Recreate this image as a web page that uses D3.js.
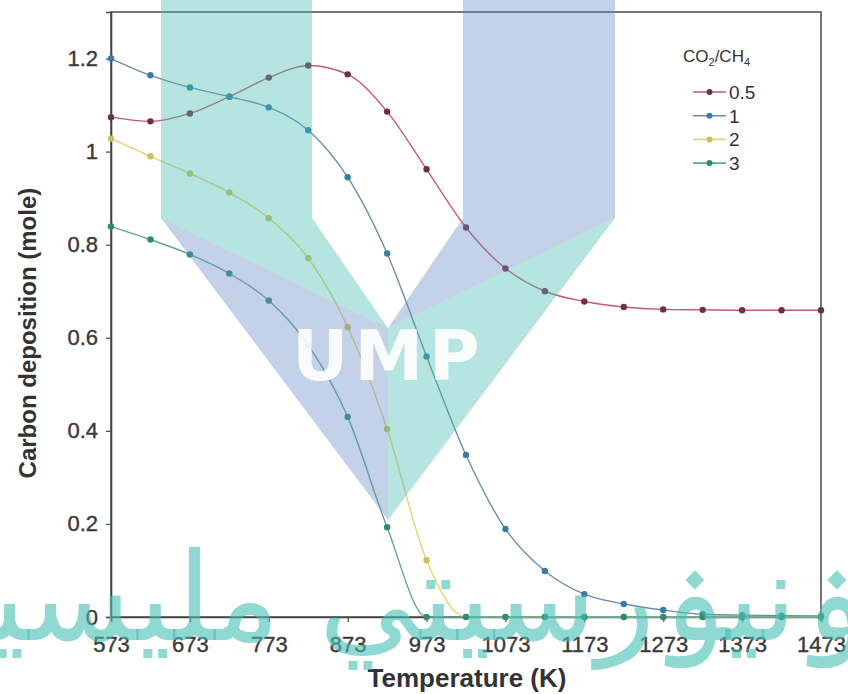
<!DOCTYPE html>
<html lang="en">
<head>
<meta charset="UTF-8">
<title>Carbon deposition vs temperature</title>
<script src="https://d3js.org/d3.v7.min.js"></script>
<style>
  body { margin: 0; background: #fff; }
  svg text { font-family: "Liberation Sans", Arial, sans-serif; }
</style>
</head>
<body>
<div id="chart"></div>
<script>
// temperatures (K), one point every 50 K
const temps = [573, 623, 673, 723, 773, 823, 873, 923, 973, 1023, 1073, 1123, 1173, 1223, 1273, 1323, 1373, 1423, 1473];

// carbon deposition (mole) for each CO2/CH4 ratio
const ratio05 = [1.074, 1.065, 1.082, 1.118, 1.159, 1.185, 1.166, 1.086, 0.962, 0.837, 0.749, 0.700, 0.678, 0.666, 0.661, 0.660, 0.659, 0.659, 0.659];
const ratio1  = [1.200, 1.164, 1.138, 1.118, 1.095, 1.046, 0.945, 0.781, 0.560, 0.348, 0.189, 0.099, 0.049, 0.028, 0.015, 0.006, 0.004, 0.003, 0.002];
const ratio2  = [1.028, 0.990, 0.953, 0.912, 0.857, 0.771, 0.623, 0.404, 0.122, 0, 0, 0, 0, 0, 0, 0, 0, 0, 0];
const ratio3  = [0.839, 0.811, 0.779, 0.738, 0.680, 0.584, 0.430, 0.193, 0, 0, 0, 0, 0, 0, 0, 0, 0, 0, 0];

const seriesNames = ["0.5", "1", "2", "3"];
const xTicks = [573, 673, 773, 873, 973, 1073, 1173, 1273, 1373, 1473];
const yTicks = [0, 0.2, 0.4, 0.6, 0.8, 1, 1.2];

const lineColors = ["#c45a6c", "#6b8daa", "#e6d373", "#5fa792"];
const dotColors  = ["#6e3048", "#3a7ca6", "#c9c25a", "#2f8c72"];

const width = 848, height = 694;
const margin = { top: 12, right: 27, bottom: 77, left: 111 };
const w = width - margin.left - margin.right;
const h = height - margin.top - margin.bottom;

const svg = d3.select("#chart").append("svg")
    .attr("width", width)
    .attr("height", height);

const g = svg.append("g").attr("transform", `translate(${margin.left},${margin.top})`);

const x = d3.scaleLinear().domain([573, 1473]).range([0, w]);
const y = d3.scaleLinear().domain([0, 1.3]).range([h, 0]);

// frame
g.append("rect")
    .attr("width", w).attr("height", h)
    .attr("fill", "none").attr("stroke", "#555").attr("stroke-width", 1.6);

const xAxis = g.append("g")
    .attr("transform", `translate(0,${h})`)
    .call(d3.axisBottom(x).tickValues(xTicks).tickFormat(d3.format("d")).tickSize(5).tickPadding(14));
const yAxis = g.append("g")
    .call(d3.axisLeft(y).tickValues(yTicks).tickFormat(d => d).tickSize(5).tickPadding(8));

[xAxis, yAxis].forEach(a => {
  a.select(".domain").attr("stroke", "#444").attr("stroke-width", 1.6);
  a.selectAll(".tick line").attr("stroke", "#555").attr("stroke-width", 1.3);
  a.selectAll(".tick text")
      .attr("fill", "#3a3a3a")
      .attr("stroke", "#3a3a3a").attr("stroke-width", 0.4)
      .style("font-size", "22px")
      .style("font-family", "'Liberation Sans', Arial, sans-serif");
});

// axis titles
svg.append("text")
    .attr("x", 467)
    .attr("y", 687)
    .attr("text-anchor", "middle")
    .attr("fill", "#333")
    .style("font-size", "26px").style("font-weight", "bold")
    .text("Temperature (K)");

svg.append("text")
    .attr("transform", `translate(36,${margin.top + y(0.61)}) rotate(-90)`)
    .attr("text-anchor", "middle")
    .attr("fill", "#333")
    .style("font-size", "24px").style("font-weight", "bold")
    .text("Carbon deposition (mole)");

// series
const allSeries = [ratio05, ratio1, ratio2, ratio3];
const line = d3.line()
    .x((d, i) => x(temps[i]))
    .y(d => y(d))
    .curve(d3.curveMonotoneX);

allSeries.forEach((vals, k) => {
  g.append("path")
      .datum(vals)
      .attr("fill", "none")
      .attr("stroke", lineColors[k])
      .attr("stroke-width", 1.4)
      .attr("d", line);
  g.selectAll(".dot" + k)
      .data(vals)
      .enter().append("circle")
      .attr("cx", (d, i) => x(temps[i]))
      .attr("cy", d => y(d))
      .attr("r", 3.2)
      .attr("fill", dotColors[k]);
});

// legend
const legend = svg.append("g").attr("transform", "translate(693,62)");
const title = legend.append("text")
    .attr("x", -10).attr("y", 0)
    .attr("fill", "#333")
    .style("font-size", "17px");
title.append("tspan").text("CO");
title.append("tspan").attr("dy", 4).style("font-size", "11px").text("2");
title.append("tspan").attr("dy", -4).text("/CH");
title.append("tspan").attr("dy", 4).style("font-size", "11px").text("4");

seriesNames.forEach((name, k) => {
  const row = legend.append("g").attr("transform", `translate(0,${30 + k * 23.7})`);
  row.append("line")
      .attr("x1", 0).attr("x2", 33)
      .attr("stroke", lineColors[k]).attr("stroke-width", 1.6);
  row.append("circle").attr("cx", 16.5).attr("r", 3).attr("fill", dotColors[k]);
  row.append("text")
      .attr("x", 36).attr("y", 7)
      .attr("fill", "#333")
      .style("font-size", "19px")
      .text(name);
});

// UMP watermark
const mark = svg.append("g");
const teal = "rgba(72,188,178,0.4)";
const blue = "rgba(105,143,198,0.4)";
const shapes = [
  { fill: teal, pts: [[161, 0], [312, 0], [312, 218], [388, 328], [161, 218]] },
  { fill: blue, pts: [[463, 0], [615, 0], [615, 218], [388, 328], [463, 218]] },
  { fill: blue, pts: [[161, 218], [388, 328], [388, 520]] },
  { fill: teal, pts: [[615, 218], [388, 328], [388, 520]] }
];
shapes.forEach(s => {
  mark.append("polygon")
      .attr("points", s.pts.map(p => p.join(",")).join(" "))
      .attr("fill", s.fill);
});
mark.append("text")
    .attr("x", 389).attr("y", 380)
    .attr("text-anchor", "middle")
    .attr("fill", "rgba(255,255,255,0.9)")
    .style("font-family", "'DejaVu Sans', sans-serif")
    .style("font-size", "69px").style("font-weight", "bold")
    .style("letter-spacing", "6px")
    .text("UMP");

mark.append("text")
    .attr("x", 868).attr("y", 640)
    .attr("text-anchor", "end")
    .attr("fill", "rgba(70,192,182,0.6)")
    .style("font-family", "'DejaVu Sans', sans-serif")
    .style("font-size", "122px")
    .text("ۏنيۏرسيتي مليسيا ڤهڠ");
</script>
</body>
</html>
